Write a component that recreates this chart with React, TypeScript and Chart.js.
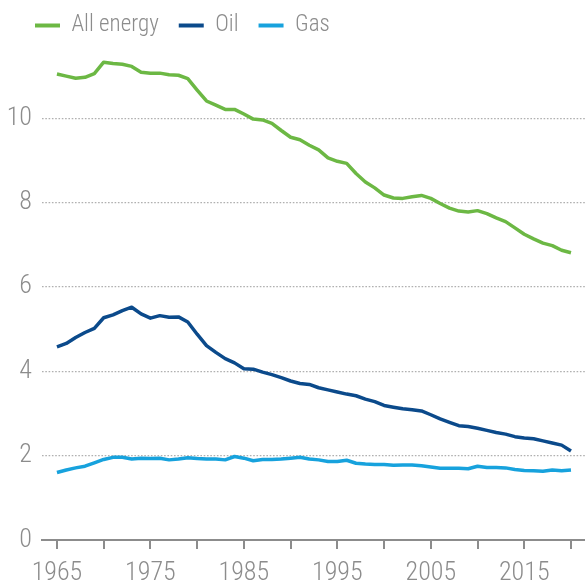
import React, { useEffect, useRef } from 'react';
import { Chart, registerables } from 'chart.js';

Chart.register(...registerables);

const years = [
  1965, 1966, 1967, 1968, 1969, 1970, 1971, 1972, 1973, 1974,
  1975, 1976, 1977, 1978, 1979, 1980, 1981, 1982, 1983, 1984,
  1985, 1986, 1987, 1988, 1989, 1990, 1991, 1992, 1993, 1994,
  1995, 1996, 1997, 1998, 1999, 2000, 2001, 2002, 2003, 2004,
  2005, 2006, 2007, 2008, 2009, 2010, 2011, 2012, 2013, 2014,
  2015, 2016, 2017, 2018, 2019, 2020,
];

const allEnergy = [
  11.05, 11.0, 10.95, 10.97, 11.06, 11.33, 11.3, 11.28, 11.23, 11.09,
  11.07, 11.07, 11.03, 11.02, 10.94, 10.67, 10.41, 10.31, 10.21, 10.21,
  10.1, 9.98, 9.96, 9.88, 9.71, 9.55, 9.49, 9.36, 9.25, 9.06,
  8.98, 8.93, 8.69, 8.49, 8.35, 8.18, 8.11, 8.1, 8.14, 8.17,
  8.1, 7.98, 7.87, 7.8, 7.78, 7.81, 7.74, 7.64, 7.55, 7.4,
  7.25, 7.14, 7.04, 6.98, 6.87, 6.81,
];

const oil = [
  4.58, 4.66, 4.8, 4.92, 5.02, 5.27, 5.34, 5.44, 5.52, 5.36,
  5.26, 5.32, 5.28, 5.29, 5.17, 4.88, 4.61, 4.45, 4.3, 4.2,
  4.06, 4.05, 3.98, 3.92, 3.85, 3.77, 3.71, 3.69, 3.61, 3.56,
  3.51, 3.46, 3.42, 3.34, 3.28, 3.19, 3.15, 3.11, 3.09, 3.06,
  2.97, 2.87, 2.79, 2.71, 2.69, 2.65, 2.6, 2.55, 2.51, 2.45,
  2.42, 2.4, 2.35, 2.3, 2.25, 2.11,
];

const gas = [
  1.6, 1.66, 1.71, 1.75, 1.83, 1.91, 1.96, 1.96, 1.92, 1.94,
  1.93, 1.94, 1.9, 1.92, 1.95, 1.93, 1.92, 1.92, 1.9, 1.98,
  1.94, 1.88, 1.91, 1.91, 1.92, 1.94, 1.96, 1.92, 1.9, 1.86,
  1.86, 1.89, 1.82, 1.8, 1.79, 1.79, 1.77, 1.78, 1.78, 1.76,
  1.73, 1.7, 1.7, 1.7, 1.69, 1.75, 1.72, 1.72, 1.71, 1.67,
  1.65, 1.64, 1.63, 1.66, 1.64, 1.66,
];

const seriesNames = ['All energy', 'Oil', 'Gas'];
const seriesColors = ['#6cb844', '#0b4a8b', '#17a2dd'];
const xTickLabels = [1965, 1975, 1985, 1995, 2005, 2015];
const yTickValues = [0, 2, 4, 6, 8, 10];

const FONT_FAMILY =
  "'Roboto Condensed', 'Liberation Sans Narrow', 'Arial Narrow', 'DejaVu Sans Condensed', Roboto, sans-serif";
const TEXT_COLOR = '#8c8c8c';
const PAD_LEFT = 15;

const yLabelUnclip = {
  id: 'yLabelUnclip',
  afterLayout(chart: any) {
    if (chart.scales && chart.scales.y) chart.scales.y.left = 0;
  },
};

export default function App() {
  const canvasRef = useRef<HTMLCanvasElement | null>(null);

  useEffect(() => {
    const canvas = canvasRef.current;
    if (!canvas) return;
    const seriesValues = [allEnergy, oil, gas];
    const chart = new Chart(canvas, {
      type: 'line',
      data: {
        datasets: seriesNames.map((name, i) => ({
          label: name,
          data: years.map((yr, j) => ({ x: yr, y: seriesValues[i][j] })),
          borderColor: seriesColors[i],
          backgroundColor: seriesColors[i],
          borderWidth: 3.5,
          pointRadius: 0,
          tension: 0,
          borderJoinStyle: 'round',
          fill: false,
        })),
      },
      plugins: [yLabelUnclip],
      options: {
        animation: false,
        responsive: false,
        layout: { padding: { top: -6, left: PAD_LEFT, right: 0, bottom: 0 } },
        plugins: {
          tooltip: { enabled: false },
          legend: {
            display: true,
            position: 'top',
            align: 'start',
            labels: {
              boxWidth: 25,
              boxHeight: 4,
              padding: 20,
              color: TEXT_COLOR,
              font: { family: FONT_FAMILY, size: 23, weight: '300' },
              generateLabels: (ch: any) =>
                ch.data.datasets.map((ds: any, i: number) => ({
                  text: ds.label,
                  fillStyle: ds.borderColor,
                  strokeStyle: ds.borderColor,
                  lineWidth: 0,
                  hidden: false,
                  datasetIndex: i,
                  fontColor: TEXT_COLOR,
                })),
            },
          },
        },
        scales: {
          x: {
            type: 'linear',
            min: 1963.4,
            max: 2021.5,
            afterFit: (scale: any) => {
              scale.height = 44;
            },
            ticks: {
              stepSize: 5,
              includeBounds: false,
              autoSkip: false,
              maxRotation: 0,
              padding: 9,
              color: TEXT_COLOR,
              font: { family: FONT_FAMILY, size: 26, weight: '300' },
              callback: (v: any) => (xTickLabels.includes(Number(v)) ? String(v) : ''),
            },
            grid: {
              display: true,
              drawOnChartArea: false,
              drawTicks: true,
              tickLength: 9,
              color: '#8c8c8c',
              lineWidth: 2,
            },
            border: { display: true, color: '#8c8c8c', width: 2 },
          },
          y: {
            type: 'linear',
            min: 0,
            max: 11.69,
            afterFit: (scale: any) => {
              scale.width = 42 - PAD_LEFT;
            },
            afterBuildTicks: (scale: any) => {
              scale.ticks = yTickValues.map((v) => ({ value: v }));
            },
            ticks: {
              padding: 10,
              color: TEXT_COLOR,
              font: { family: FONT_FAMILY, size: 26, weight: '300' },
              callback: (v: any) => String(v),
            },
            grid: {
              display: true,
              drawTicks: false,
              color: (ctx: any) => (ctx.tick && ctx.tick.value === 0 ? 'rgba(0,0,0,0)' : '#b0b0b0'),
              lineWidth: 1.2,
            },
            border: { display: false, dash: [1.6, 1.7] },
          },
        },
      },
    } as any);
    return () => {
      chart.destroy();
    };
  }, []);

  return (
    <canvas
      ref={canvasRef}
      width={585}
      height={584}
      style={{ position: 'absolute', left: 0, top: 0, width: 585, height: 584 }}
    />
  );
}
